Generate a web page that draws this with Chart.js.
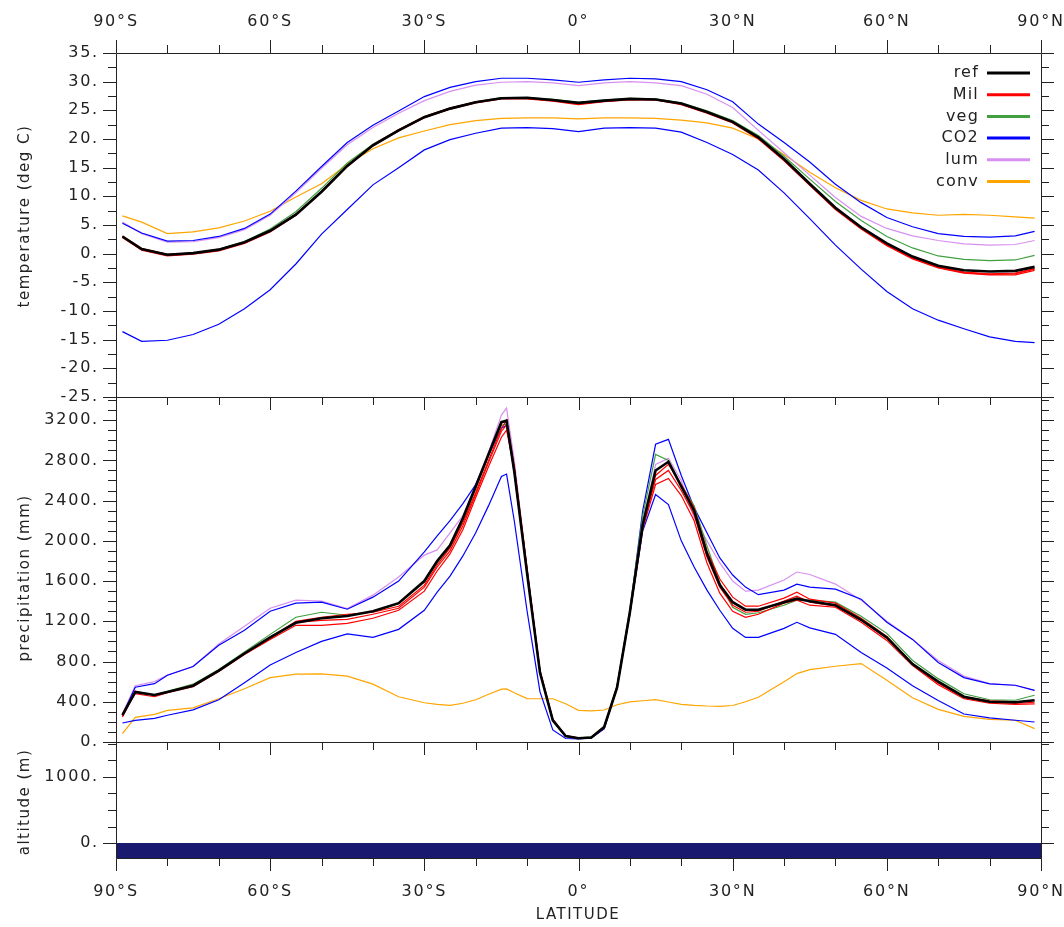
<!DOCTYPE html>
<html>
<head>
<meta charset="utf-8">
<script src="https://cdn.jsdelivr.net/npm/chart.js@4.4.1/dist/chart.umd.min.js"></script>
<style>
  html, body { margin: 0; padding: 0; background: #fff; }
  #wrap { position: relative; width: 1064px; height: 927px; }
  #wrap canvas { position: absolute; left: 0; top: 0; }
</style>
</head>
<body>
<div id="wrap">
  <canvas id="c-temp" width="1064" height="927"></canvas>
  <canvas id="c-prec" width="1064" height="927"></canvas>
  <canvas id="c-alt" width="1064" height="927"></canvas>
</div>
<script>
// ── Ticks ───────────────────────────────────────────────────
const latTicks  = [-90, -60, -30, 0, 30, 60, 90];
const latLabels = ['90°S', '60°S', '30°S', '0°', '30°N', '60°N', '90°N'];
const tempTicks = [-25, -20, -15, -10, -5, 0, 5, 10, 15, 20, 25, 30, 35];
const precTicks = [0, 400, 800, 1200, 1600, 2000, 2400, 2800, 3200];
const altTicks  = [0, 1000];

// ── Temperature (deg C) ─────────────────────────────────────
const latT = [-88.75, -85, -80, -75, -70, -65, -60, -55, -50, -45, -40, -35, -30, -25, -20, -15, -10, -5, 0,
              5, 10, 15, 20, 25, 30, 35, 40, 45, 50, 55, 60, 65, 70, 75, 80, 85, 88.75];
const tRef   = [3.0, 0.8, -0.2, 0.1, 0.7, 2.0, 4.0, 6.8, 10.8, 15.3, 18.9, 21.5, 23.8, 25.3, 26.4, 27.1, 27.2, 26.8, 26.3,
                26.7, 27.0, 26.9, 26.2, 24.7, 23.0, 20.3, 16.5, 12.2, 8.0, 4.6, 1.8, -0.5, -2.1, -2.9, -3.1, -3.0, -2.3];
const tMil1  = [2.8, 0.6, -0.4, -0.1, 0.5, 1.8, 3.8, 6.7, 10.7, 15.2, 18.8, 21.4, 23.7, 25.2, 26.3, 27.0, 27.0, 26.6, 26.0,
                26.5, 26.8, 26.8, 26.0, 24.5, 22.8, 20.0, 16.2, 11.9, 7.7, 4.3, 1.4, -0.9, -2.5, -3.4, -3.7, -3.7, -2.9];
const tMil2  = [3.1, 0.9, -0.1, 0.1, 0.7, 2.0, 4.0, 6.9, 10.9, 15.4, 19.0, 21.6, 23.9, 25.4, 26.5, 27.1, 27.1, 26.7, 26.1,
                26.6, 26.9, 26.8, 26.1, 24.6, 22.9, 20.2, 16.4, 12.0, 7.8, 4.4, 1.5, -0.8, -2.4, -3.3, -3.6, -3.5, -2.7];
const tMil3  = [2.9, 0.7, -0.3, 0.0, 0.6, 1.9, 3.9, 6.8, 10.8, 15.3, 18.9, 21.5, 23.8, 25.3, 26.4, 27.1, 27.1, 26.7, 26.2,
                26.6, 26.9, 26.9, 26.2, 24.7, 23.0, 20.2, 16.3, 12.0, 7.9, 4.5, 1.6, -0.7, -2.3, -3.2, -3.5, -3.4, -2.6];
const tVeg   = [3.0, 0.8, -0.1, 0.1, 0.8, 2.1, 4.3, 7.3, 11.4, 15.8, 19.1, 21.6, 23.9, 25.4, 26.5, 27.2, 27.2, 26.9, 26.4,
                26.8, 27.1, 27.0, 26.3, 24.9, 23.2, 20.6, 17.0, 13.0, 9.1, 5.8, 3.0, 1.0, -0.4, -1.0, -1.2, -1.1, -0.3];
const tCo2Hi = [5.3, 3.6, 2.2, 2.3, 3.0, 4.4, 6.9, 10.9, 15.2, 19.4, 22.4, 24.9, 27.4, 29.0, 30.0, 30.6, 30.6, 30.3, 29.9,
                30.3, 30.6, 30.5, 30.0, 28.6, 26.5, 22.6, 19.4, 16.0, 12.1, 8.9, 6.3, 4.7, 3.5, 3.0, 2.9, 3.1, 3.9];
const tCo2Lo = [-13.6, -15.3, -15.1, -14.1, -12.3, -9.6, -6.3, -1.8, 3.4, 7.7, 12.0, 15.0, 18.1, 19.9, 21.0, 21.9, 22.0, 21.8, 21.3,
                21.9, 22.0, 21.9, 21.2, 19.4, 17.3, 14.6, 10.6, 6.1, 1.5, -2.7, -6.6, -9.6, -11.6, -13.1, -14.5, -15.3, -15.5];
const tLum   = [5.5, 3.5, 2.0, 2.1, 2.8, 4.2, 6.7, 10.6, 14.9, 19.0, 22.0, 24.5, 26.7, 28.3, 29.4, 29.9, 30.0, 29.8, 29.3,
                29.8, 30.0, 29.8, 29.3, 27.8, 25.5, 21.5, 17.6, 13.7, 9.8, 6.5, 4.4, 3.1, 2.3, 1.7, 1.5, 1.6, 2.3];
const tConv  = [6.6, 5.5, 3.5, 3.8, 4.5, 5.7, 7.4, 9.9, 12.2, 15.6, 18.3, 20.2, 21.4, 22.5, 23.2, 23.6, 23.7, 23.7, 23.5,
                23.7, 23.7, 23.6, 23.3, 22.8, 21.9, 20.0, 17.3, 14.2, 11.5, 9.3, 7.8, 7.1, 6.7, 6.85, 6.7, 6.4, 6.2];

// ── Precipitation (mm) ──────────────────────────────────────
const latP = [-88.75, -86.25, -82.5, -80, -75, -70, -65, -60, -55, -50, -45, -40, -35, -30, -27.5, -25, -22.5, -20,
              -17.5, -15, -14, -12.5, -10, -7.5, -5, -2.5, 0, 2.5, 5, 7.5, 10, 12.5, 15, 17.5, 20, 22.5, 25, 27.5,
              30, 32.5, 35, 40, 42.5, 45, 50, 55, 60, 65, 70, 75, 80, 85, 88.75];
const pRef   = [266, 498, 468, 498, 560, 710, 880, 1040, 1185, 1230, 1252, 1300, 1380, 1600, 1800, 1955, 2225, 2540,
                2860, 3180, 3194, 2690, 1675, 690, 215, 60, 38, 45, 150, 540, 1290, 2160, 2700, 2786, 2540, 2300, 1870, 1560,
                1390, 1315, 1315, 1390, 1425, 1400, 1360, 1215, 1040, 775, 600, 450, 400, 395, 415];
const pMilA  = [250, 495, 465, 495, 560, 710, 880, 1040, 1200, 1240, 1270, 1290, 1350, 1560, 1760, 1930, 2180, 2480,
                2800, 3120, 3200, 2740, 1720, 710, 225, 62, 40, 45, 150, 550, 1290, 2150, 2650, 2760, 2560, 2330, 1900, 1620,
                1440, 1350, 1350, 1430, 1490, 1420, 1380, 1230, 1050, 780, 600, 450, 410, 400, 410];
const pMilB  = [280, 480, 450, 490, 550, 700, 870, 1020, 1160, 1160, 1180, 1230, 1310, 1500, 1700, 1870, 2110, 2430,
                2740, 3030, 3100, 2720, 1700, 700, 220, 58, 36, 42, 140, 530, 1270, 2120, 2560, 2620, 2450, 2200, 1780, 1480,
                1300, 1240, 1270, 1380, 1410, 1360, 1340, 1190, 1010, 760, 570, 430, 385, 375, 380];
const pMilC  = [260, 505, 460, 500, 565, 705, 885, 1030, 1190, 1210, 1220, 1270, 1330, 1540, 1740, 1900, 2150, 2460,
                2780, 3090, 3150, 2730, 1710, 705, 222, 60, 38, 44, 145, 540, 1280, 2140, 2610, 2700, 2500, 2260, 1840, 1540,
                1360, 1290, 1300, 1400, 1450, 1390, 1350, 1210, 1030, 770, 585, 440, 395, 385, 395];
const pVeg   = [266, 490, 470, 505, 575, 720, 895, 1070, 1240, 1290, 1260, 1295, 1375, 1590, 1780, 1935, 2200, 2520,
                2850, 3150, 3160, 2700, 1680, 690, 215, 60, 40, 50, 155, 560, 1330, 2250, 2860, 2800, 2560, 2350, 1950, 1580,
                1340, 1270, 1285, 1360, 1410, 1410, 1390, 1250, 1080, 810, 630, 480, 420, 415, 465];
const pCo2Hi = [266, 545, 580, 664, 750, 962, 1110, 1300, 1380, 1390, 1320, 1440, 1600, 1890, 2050, 2200, 2370, 2560,
                2850, 3120, 3150, 2680, 1680, 700, 210, 55, 35, 40, 130, 540, 1300, 2300, 2960, 3009, 2650, 2330, 2080, 1830,
                1660, 1540, 1465, 1510, 1570, 1540, 1520, 1420, 1190, 1020, 790, 640, 578, 564, 514];
const pCo2Lo = [189, 215, 235, 266, 320, 420, 590, 765, 890, 1000, 1075, 1040, 1120, 1310, 1490, 1650, 1850, 2080,
                2350, 2640, 2664, 2200, 1300, 500, 120, 35, 30, 40, 140, 550, 1280, 2100, 2460, 2360, 2000, 1740, 1510, 1310,
                1130, 1040, 1040, 1130, 1190, 1135, 1070, 890, 735, 560, 412, 278, 240, 216, 199];
const pLum   = [282, 560, 600, 665, 750, 975, 1150, 1330, 1410, 1400, 1327, 1460, 1640, 1858, 1910, 2080, 2250, 2560,
                2880, 3250, 3320, 2800, 1720, 720, 230, 65, 40, 45, 150, 550, 1290, 2180, 2760, 2820, 2600, 2230, 2000, 1780,
                1600, 1500, 1510, 1610, 1690, 1665, 1570, 1410, 1200, 1020, 810, 655, 580, 562, 514];
const pConv  = [83, 245, 275, 315, 340, 430, 530, 640, 675, 678, 655, 575, 450, 390, 375, 365, 385, 420,
                475, 525, 528, 490, 432, 430, 430, 380, 315, 310, 318, 370, 398, 410, 421, 398, 375, 365, 358, 355,
                363, 400, 445, 600, 680, 720, 753, 780, 615, 440, 325, 255, 225, 216, 133];

// ── Altitude (m) ────────────────────────────────────────────
const latA = [-90, 90];
const aAlt = [0, 0];

// ── Style ───────────────────────────────────────────────────
const FONT = { family: 'DejaVu Sans', size: 16 };
const INK  = '#222';
const C = { ref: '#000000', mil: '#ff0000', veg: '#40a040', co2: '#0000ff', lum: '#d890f0', conv: '#ffa500' };

function pts(lats, vals) {
  return lats.map((x, i) => ({ x, y: vals[i] }));
}

function serie(legend, lats, vals, color, width) {
  return {
    legend, data: pts(lats, vals),
    borderColor: color, backgroundColor: color, borderWidth: width || 1.2,
    pointRadius: 0, tension: 0, fill: false
  };
}

function latAxis(position, height, pad) {
  return {
    type: 'linear', position, min: -90, max: 90,
    afterBuildTicks: s => { s.ticks = latTicks.map(v => ({ value: v })); },
    afterFit: s => { s.height = height; s.paddingLeft = 0; s.paddingRight = 0; },
    ticks: { autoSkip: false, maxRotation: 0, padding: pad, font: FONT, color: INK,
             callback: v => latLabels[latTicks.indexOf(v)] },
    grid: { display: false, drawTicks: false, tickLength: 0 },
    border: { display: false }
  };
}

function valAxis(min, max, ticks) {
  return {
    type: 'linear', position: 'left', min, max,
    afterBuildTicks: s => { s.ticks = ticks.map(v => ({ value: v })); },
    afterFit: s => { s.width = 116; s.paddingTop = 0; s.paddingBottom = 0; },
    ticks: { autoSkip: false, padding: 17, font: FONT, color: INK, callback: v => v + '.' },
    grid: { display: false, drawTicks: false, tickLength: 0 },
    border: { display: false }
  };
}

// ── Frame: box, outward major/minor ticks, titles, legend ───
const frame = {
  id: 'frame',
  beforeDraw(chart) { chart.ctx.letterSpacing = '1.8px'; },
  afterDraw(chart, args, o) {
    const { ctx, chartArea: a } = chart;
    const x = chart.scales.x, y = chart.scales.y;
    ctx.save();
    ctx.strokeStyle = INK;
    ctx.lineWidth = 1;
    ctx.beginPath();
    ctx.rect(a.left + 0.5, a.top + 0.5, a.right - a.left, a.bottom - a.top);
    for (let v = -90; v <= 90; v += 10) {
      const px = Math.round(x.getPixelForValue(v)) + 0.5;
      const len = v % 30 === 0 ? 13 : 8;
      if (o.up) { ctx.moveTo(px, a.top); ctx.lineTo(px, a.top - len); }
      ctx.moveTo(px, a.bottom + 0.5); ctx.lineTo(px, a.bottom + len);
    }
    for (let v = Math.ceil(y.min / o.minor) * o.minor; v <= y.max + 1e-6; v += o.minor) {
      const py = Math.round(y.getPixelForValue(v)) + 0.5;
      const len = Math.abs(v % o.major) < 1e-6 ? 13 : 8;
      ctx.moveTo(a.left, py); ctx.lineTo(a.left - len, py);
      ctx.moveTo(a.right + 1, py); ctx.lineTo(a.right + len, py);
    }
    ctx.stroke();

    ctx.fillStyle = INK;
    ctx.font = '15px "DejaVu Sans"';
    ctx.textBaseline = 'middle';
    ctx.letterSpacing = '1.5px';
    ctx.textAlign = 'center';
    (o.titles || []).forEach(t => {
      ctx.save();
      ctx.translate(t.x, t.y);
      if (t.rot) ctx.rotate(-Math.PI / 2);
      ctx.fillText(t.text, 0, 0);
      ctx.restore();
    });

    if (o.legend) {
      ctx.font = '16px "DejaVu Sans"';
      ctx.letterSpacing = '1.2px';
      ctx.textAlign = 'right';
      let row = 0;
      chart.data.datasets.forEach(d => {
        if (!d.legend) return;
        const ly = 73 + row * 21.7;
        ctx.fillStyle = INK;
        ctx.fillText(d.legend, 979, ly);
        ctx.strokeStyle = d.borderColor;
        ctx.lineWidth = 3;
        ctx.beginPath();
        ctx.moveTo(987, ly); ctx.lineTo(1030, ly);
        ctx.stroke();
        row++;
      });
    }
    ctx.restore();
  }
};

const base = {
  responsive: false, animation: false, devicePixelRatio: 1,
  plugins: { legend: { display: false }, tooltip: { enabled: false } }
};

// ── Panel 1: temperature ────────────────────────────────────
new Chart(document.getElementById('c-temp'), {
  type: 'line',
  data: { datasets: [
    serie('ref', latT, tRef, C.ref, 2.6),
    serie('Mil', latT, tMil1, C.mil),
    serie(null,  latT, tMil2, C.mil),
    serie(null,  latT, tMil3, C.mil),
    serie('veg', latT, tVeg, C.veg),
    serie('CO2', latT, tCo2Hi, C.co2),
    serie(null,  latT, tCo2Lo, C.co2),
    serie('lum', latT, tLum, C.lum),
    serie('conv', latT, tConv, C.conv)
  ] },
  options: { ...base,
    layout: { padding: { right: 23, bottom: 530 } },
    scales: { x: latAxis('top', 53, 22), y: valAxis(-25, 35, tempTicks) },
    plugins: { ...base.plugins,
      frame: { up: true, minor: 2.5, major: 5, legend: true,
               titles: [{ text: 'temperature (deg C)', x: 25, y: 216, rot: true }] } }
  },
  plugins: [frame]
});

// ── Panel 2: precipitation ──────────────────────────────────
new Chart(document.getElementById('c-prec'), {
  type: 'line',
  data: { datasets: [
    serie('ref', latP, pRef, C.ref, 2.6),
    serie('Mil', latP, pMilA, C.mil),
    serie(null,  latP, pMilB, C.mil),
    serie(null,  latP, pMilC, C.mil),
    serie('veg', latP, pVeg, C.veg),
    serie('CO2', latP, pCo2Hi, C.co2),
    serie(null,  latP, pCo2Lo, C.co2),
    serie('lum', latP, pLum, C.lum),
    serie('conv', latP, pConv, C.conv)
  ] },
  options: { ...base,
    layout: { padding: { top: 397, right: 23, bottom: 185 } },
    scales: { x: { type: 'linear', min: -90, max: 90, display: false }, y: valAxis(0, 3430, precTicks) },
    plugins: { ...base.plugins,
      frame: { minor: 100, major: 400,
               titles: [{ text: 'precipitation (mm)', x: 25, y: 578, rot: true }] } }
  },
  plugins: [frame]
});

// ── Panel 3: altitude ───────────────────────────────────────
new Chart(document.getElementById('c-alt'), {
  type: 'line',
  data: { datasets: [{
    data: pts(latA, aAlt), borderWidth: 0, borderColor: '#191970',
    backgroundColor: '#191970', pointRadius: 0, fill: 'start'
  }] },
  options: { ...base,
    layout: { padding: { top: 742, right: 23 } },
    scales: { x: latAxis('bottom', 69, 24), y: valAxis(-225, 1525, altTicks) },
    plugins: { ...base.plugins,
      frame: { minor: 250, major: 1000,
               titles: [{ text: 'altitude (m)', x: 25, y: 802, rot: true },
                        { text: 'LATITUDE', x: 578, y: 915 }] } }
  },
  plugins: [frame]
});
</script>
</body>
</html>
